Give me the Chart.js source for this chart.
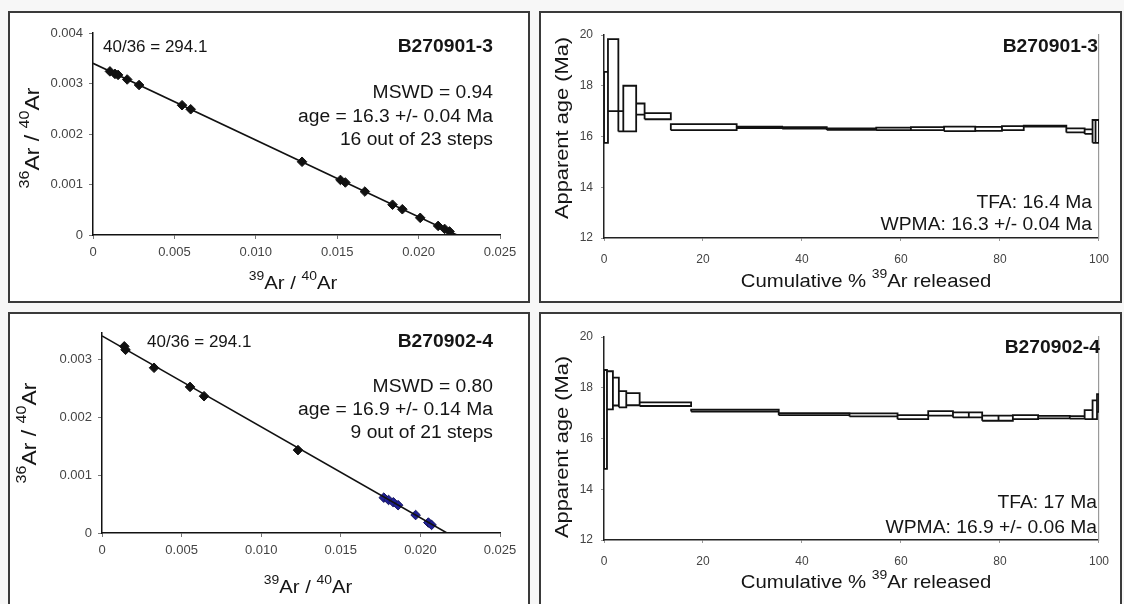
<!DOCTYPE html>
<html lang="en">
<head>
  <meta charset="UTF-8" />
  <title>Ar-Ar isochrons and age spectra</title>
  <script src="https://cdn.jsdelivr.net/npm/chart.js"></script>
  <style>
    body {
      margin: 0;
      background: #f7f7f7;
      width: 1124px;
      height: 604px;
      overflow: hidden;
      position: relative;
    }

    .panel {
      position: absolute;
      box-sizing: border-box;
      border: 2px solid #3a3a3a;
      background: #fff;
    }

    canvas {
      display: block;
    }
  </style>
</head>
<body>
  <div class="panel" style="left:8px; top:11px; width:522px; height:292px;"><canvas id="iso1" width="518" height="288"></canvas></div>
  <div class="panel" style="left:539px; top:11px; width:583px; height:292px;"><canvas id="spec1" width="579" height="288"></canvas></div>
  <div class="panel" style="left:8px; top:312px; width:522px; height:296px;"><canvas id="iso2" width="518" height="292"></canvas></div>
  <div class="panel" style="left:539px; top:312px; width:583px; height:296px;"><canvas id="spec2" width="579" height="292"></canvas></div>

  <script>
    const FONT = "'Liberation Sans', Arial, sans-serif";

    // isochron B270901-3 (36Ar/40Ar vs 39Ar/40Ar)
    const isoX1 = [0.00104, 0.00135, 0.00154, 0.0021, 0.00283, 0.00547, 0.0060, 0.01284, 0.0152, 0.0155, 0.0167, 0.0184, 0.0190, 0.0201, 0.0212, 0.0216, 0.0219];
    const isoY1 = [0.00324, 0.00319, 0.00317, 0.00308, 0.00297, 0.00257, 0.00249, 0.00145, 0.00109, 0.00104, 0.00086, 0.00060, 0.00051, 0.00034, 0.00018, 0.00012, 0.00007];
    const fitX1 = [0, 0.02236];
    const fitY1 = [0.0034, 0];

    // isochron B270902-4
    const isoX2 = [0.00140, 0.00148, 0.00327, 0.00553, 0.00641, 0.01231];
    const isoY2 = [0.00322, 0.00316, 0.00285, 0.00252, 0.00236, 0.00143];
    const isoX2b = [0.0177, 0.0180, 0.0183, 0.0186, 0.0197, 0.0205, 0.0207];
    const isoY2b = [0.00061, 0.00057, 0.00053, 0.00048, 0.00031, 0.00018, 0.00014];
    const fitX2 = [0, 0.02167];
    const fitY2 = [0.0034, 0];

    const isoXTicks = [0, 0.005, 0.010, 0.015, 0.020, 0.025];
    const isoYTicks1 = [0, 0.001, 0.002, 0.003, 0.004];
    const isoYTicks2 = [0, 0.001, 0.002, 0.003];

    // age spectrum B270901-3: cumulative % 39Ar boundaries, apparent age, 1 sigma (Ma)
    const cum1 = [0, 0.8, 2.9, 3.9, 6.5, 8.2, 13.5, 26.8, 36, 45, 55, 62, 68.7, 75, 80.4, 84.8, 93.4, 97.1, 98.7, 99.3, 100];
    const ages1 = [17.15, 18.42, 16.6, 17.1, 17.08, 16.8, 16.37, 16.36, 16.34, 16.29, 16.3, 16.31, 16.3, 16.3, 16.33, 16.41, 16.24, 16.19, 16.2, 16.2];
    const errs1 = [1.4, 1.42, 0.4, 0.9, 0.22, 0.12, 0.12, 0.03, 0.03, 0.03, 0.05, 0.06, 0.09, 0.08, 0.08, 0.02, 0.08, 0.09, 0.45, 0.45];

    // age spectrum B270902-4
    const cum2 = [0, 0.6, 1.8, 3.0, 4.5, 7.2, 17.6, 35.3, 49.6, 59.3, 65.5, 70.5, 73.7, 76.4, 79.7, 82.6, 87.7, 94.1, 97.1, 98.7, 99.6, 100];
    const ages2 = [16.75, 17.9, 17.85, 17.55, 17.55, 17.35, 17.1, 16.96, 16.93, 16.84, 16.99, 16.93, 16.93, 16.8, 16.8, 16.84, 16.84, 16.83, 16.94, 17.13, 17.4];
    const errs2 = [1.95, 0.75, 0.55, 0.32, 0.24, 0.07, 0.04, 0.04, 0.06, 0.08, 0.09, 0.1, 0.1, 0.1, 0.1, 0.08, 0.05, 0.05, 0.18, 0.37, 0.35];

    const cumTicks = [0, 20, 40, 60, 80, 100];
    const ageTicks = [12, 14, 16, 18, 20];

    Chart.defaults.font.family = FONT;
    Chart.defaults.animation = false;

    // draws free text (with superscripts) in canvas coords
    const panelText = {
      id: 'panelText',
      afterDraw(chart, args, opts) {
        const ctx = chart.ctx;
        (opts.items || []).forEach(it => {
          const size = it.size || 18;
          const weight = it.bold ? 'bold ' : '';
          const parts = it.parts || [[it.text, 0]];
          const fontFor = sup => weight + (sup ? Math.round(size * 0.68) : size) + 'px ' + FONT;
          ctx.save();
          ctx.fillStyle = it.color || '#151515';
          ctx.textBaseline = 'middle';
          ctx.textAlign = 'left';
          ctx.translate(it.x, it.y);
          if (it.rotate) ctx.rotate(-Math.PI / 2);
          ctx.scale(it.sx || 1.07, 1);
          let w = 0;
          parts.forEach(([t, sup]) => { ctx.font = fontFor(sup); w += ctx.measureText(t).width; });
          let x = it.align === 'right' ? -w : it.align === 'center' ? -w / 2 : 0;
          parts.forEach(([t, sup]) => {
            ctx.font = fontFor(sup);
            ctx.fillText(t, x, sup ? -size * 0.38 : 0);
            x += ctx.measureText(t).width;
          });
          ctx.restore();
        });
      }
    };

    function toXY(xs, ys) {
      return xs.map((x, i) => ({ x: x, y: ys[i] }));
    }

    // outline of each heating step as a rectangle (age +/- error over its % interval)
    function stepBoxes(cum, ages, errs) {
      const pts = [];
      ages.forEach((a, i) => {
        const lo = a - errs[i], hi = a + errs[i];
        pts.push({ x: cum[i], y: lo }, { x: cum[i], y: hi }, { x: cum[i + 1], y: hi },
                 { x: cum[i + 1], y: lo }, { x: cum[i], y: lo }, { x: cum[i], y: null });
      });
      return pts;
    }

    function fixedTicks(list) {
      return axis => { axis.ticks = list.map(v => ({ value: v })); };
    }

    function isoChart(id, pad, yMax, yTicks, datasets, items) {
      return new Chart(document.getElementById(id), {
        type: 'scatter',
        data: { datasets: datasets },
        options: {
          responsive: false,
          devicePixelRatio: 1,
          layout: { padding: pad },
          plugins: { legend: { display: false }, tooltip: { enabled: false }, panelText: { items: items } },
          scales: {
            x: {
              type: 'linear', min: 0, max: 0.025,
              afterBuildTicks: fixedTicks(isoXTicks),
              afterFit: s => { s.height = 30; },
              border: { color: '#111', width: 1.5 },
              grid: { drawOnChartArea: false, tickLength: 4, color: '#777' },
              ticks: { color: '#444', font: { size: 13 }, padding: 6, maxRotation: 0,
                       callback: v => v === 0 ? '0' : v.toFixed(3) }
            },
            y: {
              type: 'linear', min: 0, max: yMax,
              afterBuildTicks: fixedTicks(yTicks),
              afterFit: s => { s.width = 50; },
              border: { color: '#111', width: 1.5 },
              grid: { drawOnChartArea: false, tickLength: 4, color: '#777' },
              ticks: { color: '#444', font: { size: 13 }, padding: 6,
                       callback: v => v === 0 ? '0' : v.toFixed(3) }
            }
          }
        },
        plugins: [panelText]
      });
    }

    function specChart(id, pad, cum, ages, errs, items) {
      return new Chart(document.getElementById(id), {
        type: 'scatter',
        data: {
          datasets: [{
            data: stepBoxes(cum, ages, errs),
            showLine: true,
            spanGaps: false,
            borderColor: '#111',
            borderWidth: 1.8,
            borderJoinStyle: 'miter',
            pointRadius: 0
          }]
        },
        options: {
          responsive: false,
          devicePixelRatio: 1,
          layout: { padding: pad },
          plugins: { legend: { display: false }, tooltip: { enabled: false }, panelText: { items: items } },
          scales: {
            x: {
              type: 'linear', min: 0, max: 100,
              afterBuildTicks: fixedTicks(cumTicks),
              afterFit: s => { s.height = 30; },
              border: { color: '#222', width: 1.5 },
              grid: { drawOnChartArea: false, tickLength: 3, color: '#999' },
              ticks: { color: '#444', font: { size: 12 }, padding: 11, maxRotation: 0 }
            },
            y: {
              type: 'linear', min: 12, max: 20,
              afterBuildTicks: fixedTicks(ageTicks),
              afterFit: s => { s.width = 40; },
              border: { color: '#222', width: 1.5 },
              grid: { drawOnChartArea: false, tickLength: 3, color: '#999' },
              ticks: { color: '#444', font: { size: 12 }, padding: 8 }
            },
            y2: {
              type: 'linear', position: 'right', min: 12, max: 20,
              afterFit: s => { s.width = 0; },
              border: { color: '#9a9a9a', width: 1.2 },
              grid: { display: false },
              ticks: { display: false }
            }
          }
        },
        plugins: [panelText]
      });
    }

    const ratioTitle = (a) => [[a, 1], ['Ar / ', 0], ['40', 1], ['Ar', 0]];
    const cumTitle = [['Cumulative % ', 0], ['39', 1], ['Ar released', 0]];

    // panel origins: iso1 (10,13), spec1 (541,13), iso2 (10,314), spec2 (541,314)
    isoChart('iso1', { left: 33, right: 28, top: 20, bottom: 36 }, 0.004, isoYTicks1, [
      { type: 'line', data: toXY(fitX1, fitY1), borderColor: '#111', borderWidth: 1.6, pointRadius: 0 },
      { data: toXY(isoX1, isoY1), pointStyle: 'rectRot', pointRadius: 4.8, backgroundColor: '#111', borderColor: '#111' }
    ], [
      { text: '40/36 = 294.1', x: 93, y: 34, size: 17, sx: 1.0 },
      { text: 'B270901-3', x: 483, y: 34, size: 18, bold: true, align: 'right' },
      { text: 'MSWD = 0.94', x: 483, y: 80, size: 18, align: 'right' },
      { text: 'age = 16.3 +/- 0.04 Ma', x: 483, y: 104, size: 18, align: 'right' },
      { text: '16 out of 23 steps', x: 483, y: 127, size: 18, align: 'right' },
      { parts: ratioTitle('39'), x: 283, y: 271, size: 19, align: 'center' },
      { parts: ratioTitle('36'), x: 23, y: 125, size: 20, align: 'center', rotate: true, sx: 1.15 }
    ]);

    specChart('spec1', { left: 23, right: 15, top: 22, bottom: 33 }, cum1, ages1, errs1, [
      { text: 'B270901-3', x: 557, y: 34, size: 18, bold: true, align: 'right' },
      { text: 'TFA: 16.4 Ma', x: 551, y: 190, size: 18, align: 'right' },
      { text: 'WPMA: 16.3 +/- 0.04 Ma', x: 551, y: 212, size: 18, align: 'right' },
      { parts: cumTitle, x: 325, y: 269, size: 19, align: 'center' },
      { text: 'Apparent age (Ma)', x: 22, y: 115, size: 19, align: 'center', rotate: true, sx: 1.15 }
    ]);

    isoChart('iso2', { left: 42, right: 28, top: 19, bottom: 43 }, 0.00345, isoYTicks2, [
      { type: 'line', data: toXY(fitX2, fitY2), borderColor: '#111', borderWidth: 1.6, pointRadius: 0 },
      { data: toXY(isoX2, isoY2), pointStyle: 'rectRot', pointRadius: 4.8, backgroundColor: '#111', borderColor: '#111' },
      { data: toXY(isoX2b, isoY2b), pointStyle: 'rectRot', pointRadius: 4.8, backgroundColor: '#1f1f96', borderColor: '#15155e' }
    ], [
      { text: '40/36 = 294.1', x: 137, y: 28, size: 17, sx: 1.0 },
      { text: 'B270902-4', x: 483, y: 28, size: 18, bold: true, align: 'right' },
      { text: 'MSWD = 0.80', x: 483, y: 73, size: 18, align: 'right' },
      { text: 'age = 16.9 +/- 0.14 Ma', x: 483, y: 96, size: 18, align: 'right' },
      { text: '9 out of 21 steps', x: 483, y: 119, size: 18, align: 'right' },
      { parts: ratioTitle('39'), x: 298, y: 274, size: 19, align: 'center' },
      { parts: ratioTitle('36'), x: 20, y: 119, size: 20, align: 'center', rotate: true, sx: 1.15 }
    ]);

    specChart('spec2', { left: 23, right: 15, top: 23, bottom: 36 }, cum2, ages2, errs2, [
      { text: 'B270902-4', x: 559, y: 34, size: 18, bold: true, align: 'right' },
      { text: 'TFA: 17 Ma', x: 556, y: 189, size: 18, align: 'right' },
      { text: 'WPMA: 16.9 +/- 0.06 Ma', x: 556, y: 214, size: 18, align: 'right' },
      { parts: cumTitle, x: 325, y: 269, size: 19, align: 'center' },
      { text: 'Apparent age (Ma)', x: 22, y: 133, size: 19, align: 'center', rotate: true, sx: 1.15 }
    ]);
  </script>
</body>
</html>
